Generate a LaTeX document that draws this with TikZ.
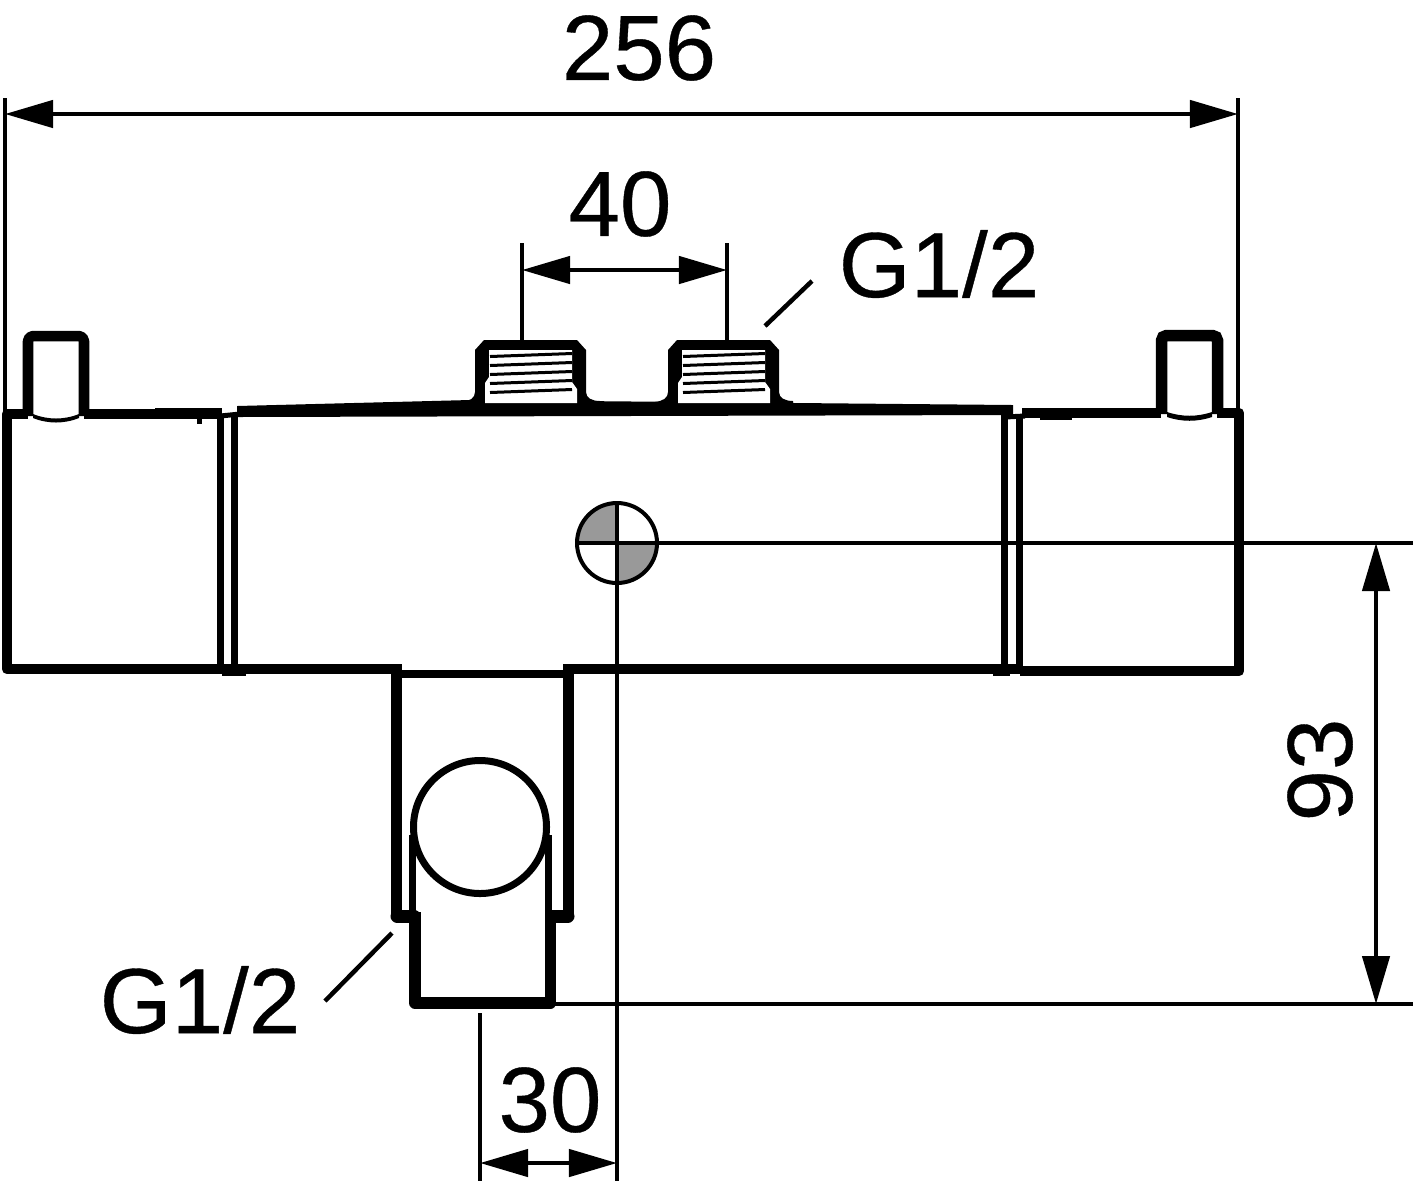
\documentclass[tikz,border=0pt]{standalone}
\usepackage{fontspec}
\newfontfamily\dimfont{Liberation Sans}[FakeBold=0.4]
\usetikzlibrary{arrows.meta}
\tikzset{
  dimline/.style={black, line width=.045cm, {Stealth[length=.48cm,width=.27cm,inset=0pt]}-{Stealth[length=.48cm,width=.27cm,inset=0pt]}},
  thinline/.style={black, line width=.045cm},
  heavy/.style={black, line width=.105cm, line join=round},
  medium/.style={black, line width=.07cm},
  dimtext/.style={inner sep=0pt, font=\dimfont\fontsize{26.3}{30}\selectfont},
}
\begin{document}
\begin{tikzpicture}[x=.01cm,y=-.01cm]
\useasboundingbox (0,0) rectangle (1413,1181);
% centre mark
\coordinate (mark) at (617,543);
\fill[gray!80] (mark) -- (577,543) arc (180:90:40 and -40) -- cycle;
\fill[gray!80] (mark) -- (657,543) arc (0:-90:40 and -40) -- cycle;
\draw[black, line width=.04cm] (mark) circle (40);
% extension lines
\coordinate (left top) at (5,98);
\coordinate (left foot) at (5,412);
\coordinate (right top) at (1238,98);
\coordinate (right foot) at (1238,412);
\coordinate (a40 top) at (522,243);
\coordinate (a40 foot) at (522,342);
\coordinate (b40 top) at (727,243);
\coordinate (b40 foot) at (727,342);
\coordinate (h93 top) at (1413,543);
\coordinate (h93 low) at (1413,1004);
\coordinate (stem low) at (552,1004);
\coordinate (a30 top) at (480,1013);
\coordinate (a30 foot) at (480,1181);
\coordinate (b30 top) at (617,501);
\coordinate (b30 foot) at (617,1181);
\draw[thinline] (left top) -- (left foot);
\draw[thinline] (right top) -- (right foot);
\draw[thinline] (a40 top) -- (a40 foot);
\draw[thinline] (b40 top) -- (b40 foot);
\draw[thinline] (576,543) -- (h93 top);
\draw[thinline] (stem low) -- (h93 low);
\draw[thinline] (a30 top) -- (a30 foot);
\draw[thinline] (b30 top) -- (b30 foot);
% dimensions
\draw[dimline] (5,114) -- (1238,114);
\draw[dimline] (522,270) -- (727,270);
\draw[dimline] (1376,543) -- (1376,1004);
\draw[dimline] (480,1163) -- (617,1163);
\node[dimtext] (t256) at (639,48) {256};
\node[dimtext] (t40) at (620,204) {40};
\node[dimtext] (g top) at (939,264) {G1/2};
\node[dimtext] (g low) at (200,1000) {G1/2};
\node[dimtext] (t30) at (550,1100) {30};
\node[dimtext, rotate=90] (t93) at (1320,770) {93};
\coordinate (lead a) at (765,326);
\coordinate (lead b) at (812,281);
\coordinate (lead c) at (325,1001);
\coordinate (lead d) at (392,933);
\draw[thinline] (lead a) -- (lead b);
\draw[thinline] (lead c) -- (lead d);
% end caps
\draw[heavy] (28,414) -- (7,414) -- (7,669) -- (400,669);
\draw[heavy] (84,414) -- (160,414);
\draw[black, line width=.11cm] (155,413) -- (222,413);
\draw[black, line width=.05cm] (199,416) -- (199,424);
\draw[black, line width=.05cm] (220,416) -- (240,414);
\draw[heavy] (1022,413) -- (1161,413);
\draw[black, line width=.11cm] (1040,414) -- (1072,414);
\draw[black, line width=.05cm] (1005,417) -- (1025,416);
\draw[heavy] (1217,413) -- (1239,413) -- (1239,671) -- (1020,671);
% collars
\foreach \x in {220,234.5,1004.5,1019} \draw[medium] (\x,414) -- (\x,669);
\draw[black, line width=.05cm] (222,673) -- (246,673);
\draw[black, line width=.05cm] (993,673) -- (1010,673);
% top stubs
\draw[heavy, rounded corners=.05cm] (28,416) -- (28,336) -- (84,336) -- (84,416);
\fill[black] (33,414) .. controls (48,420) and (64,420) .. (79,414) -- (79,418) .. controls (64,424) and (48,424) .. (33,418) -- cycle;
\draw[black, line width=.115cm, rounded corners=.05cm] (1161.5,414) -- (1161.5,335.5) -- (1217.5,335.5) -- (1217.5,414);
\fill[black] (1167,412) .. controls (1182,417) and (1197,417) .. (1212,412) -- (1212,417) .. controls (1197,422) and (1182,422) .. (1167,417) -- cycle;
% body
\fill[black] (237,406) -- (470,400) -- (1013,405) -- (1013,415) -- (237,417) -- cycle;
\draw[heavy] (570,669) -- (1022,669);
% threaded connections
\foreach \x in {0,193} {
  \fill[black] (462+\x,402) .. controls (470+\x,401) and (475+\x,398) .. (475+\x,392) -- (475+\x,350) -- (484+\x,340) -- (577+\x,340) -- (586+\x,350) -- (586+\x,392) .. controls (586+\x,398) and (592+\x,401) .. (600+\x,401) -- (600+\x,412) -- (462+\x,412) -- cycle;
  \fill[white] (489+\x,350) -- (572+\x,350) -- (572+\x,382) -- (577+\x,389) -- (577+\x,403) -- (485+\x,403) -- (485+\x,383) -- (489+\x,377) -- cycle;
  \foreach \y in {355,364,373,382,391} \draw[black, line width=.03cm] (490+\x,\y+1.5) -- (572+\x,\y-1.5);
}
% outlet
\draw[black, line width=.11cm] (396,664) -- (396,917);
\draw[black, line width=.11cm] (568,664) -- (568,917);
\draw[black, line width=.08cm] (396,674) -- (568,674);
\draw[black, line width=.13cm, line cap=round] (397,916) -- (414,916);
\draw[black, line width=.13cm, line cap=round] (552,916) -- (568,916);
\draw[medium] (412,835) -- (412,915);
\draw[medium] (548,835) -- (548,915);
\draw[black, line width=.115cm, line join=round] (415,912) -- (415,1003) -- (550.5,1003) -- (550.5,912);
\draw[black, line width=.07cm, fill=white] (480,827) circle (66.5);
\end{tikzpicture}
\end{document}
